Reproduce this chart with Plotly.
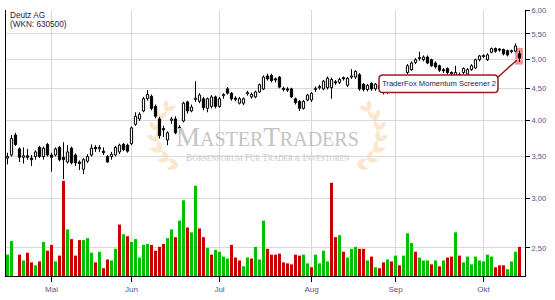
import math
import pandas as pd
import plotly.graph_objects as go

# ---------------- data ----------------
opens = [3.48,3.52,3.79,3.60,3.49,3.51,3.48,3.50,3.62,3.50,
         3.66,3.52,3.52,3.62,3.49,3.43,3.61,3.52,3.43,3.34,
         3.44,3.52,3.62,3.60,3.57,3.50,3.50,3.52,3.56,3.66,
         3.65,3.67,3.94,4.02,4.14,4.33,4.37,4.21,4.02,3.88,
         3.72,4.00,4.02,3.90,3.99,4.28,4.14,4.32,4.29,4.33,
         4.18,4.21,4.36,4.21,4.38,4.49,4.42,4.34,4.26,4.26,
         4.41,4.36,4.36,4.44,4.49,4.71,4.72,4.66,4.69,4.50,
         4.49,4.49,4.33,4.29,4.18,4.31,4.31,4.48,4.51,4.49,
         4.51,4.51,4.61,4.60,4.68,4.55,4.69,4.69,4.73,4.57,
         4.48,4.58,4.49,4.55,4.48,4.44,4.49,4.47,4.56,4.52,
         4.77,4.82,4.95,5.02,5.00,5.05,5.00,4.94,4.89,4.82,
         4.84,4.77,4.69,4.72,4.77,4.74,4.82,4.85,5.00,5.06,
         5.00,5.14,5.21,5.20,5.19,5.17,5.15,5.16,5.11]
highs = [3.55,3.79,3.82,3.62,3.62,3.60,3.52,3.58,3.64,3.63,
         3.68,3.55,3.62,3.64,3.69,3.65,3.63,3.54,3.45,3.48,
         3.53,3.66,3.65,3.65,3.62,3.52,3.56,3.64,3.67,3.68,
         3.67,3.91,4.12,4.12,4.36,4.47,4.40,4.24,4.05,3.92,
         3.84,4.05,4.06,3.93,4.28,4.30,4.24,4.62,4.42,4.36,
         4.35,4.39,4.38,4.36,4.42,4.52,4.44,4.37,4.36,4.35,
         4.46,4.43,4.46,4.58,4.72,4.75,4.75,4.68,4.71,4.53,
         4.52,4.51,4.35,4.31,4.31,4.41,4.44,4.53,4.56,4.64,
         4.70,4.68,4.64,4.68,4.70,4.69,4.83,4.81,4.76,4.59,
         4.57,4.60,4.59,4.58,4.50,4.52,4.52,4.58,4.60,4.72,
         4.92,4.97,5.03,5.15,5.08,5.08,5.02,4.97,4.91,4.85,
         4.86,4.79,4.89,4.77,4.86,4.85,4.92,5.02,5.09,5.10,
         5.12,5.23,5.23,5.22,5.21,5.19,5.19,5.31,5.17]
lows = [3.40,3.50,3.64,3.43,3.41,3.46,3.38,3.46,3.48,3.46,
        3.50,3.31,3.50,3.44,3.22,3.41,3.40,3.38,3.33,3.28,
        3.42,3.50,3.56,3.56,3.52,3.42,3.46,3.50,3.53,3.57,
        3.55,3.65,3.92,3.99,4.12,4.30,4.15,4.03,3.74,3.76,
        3.65,3.95,3.80,3.80,3.97,4.10,4.12,4.28,4.26,4.15,
        4.12,4.18,4.18,4.19,4.33,4.40,4.30,4.29,4.24,4.23,
        4.38,4.33,4.34,4.42,4.47,4.63,4.60,4.60,4.50,4.45,
        4.44,4.34,4.24,4.14,4.16,4.29,4.28,4.44,4.48,4.47,
        4.48,4.33,4.56,4.57,4.63,4.52,4.66,4.66,4.46,4.45,
        4.45,4.46,4.46,4.46,4.40,4.41,4.43,4.45,4.50,4.50,
        4.74,4.80,4.92,4.98,4.97,4.92,4.87,4.84,4.78,4.76,
        4.74,4.70,4.66,4.68,4.74,4.72,4.80,4.83,4.97,5.03,
        4.98,5.12,5.13,5.15,5.08,5.06,5.12,5.14,4.96]
closes = [3.50,3.74,3.66,3.49,3.51,3.49,3.46,3.56,3.50,3.61,
          3.52,3.49,3.60,3.46,3.46,3.56,3.42,3.42,3.41,3.46,
          3.50,3.61,3.60,3.62,3.55,3.43,3.53,3.62,3.65,3.59,
          3.57,3.89,4.06,4.09,4.33,4.40,4.18,4.06,3.78,3.86,
          3.82,4.02,3.82,3.88,4.26,4.14,4.20,4.34,4.39,4.19,
          4.33,4.36,4.21,4.33,4.40,4.42,4.33,4.32,4.33,4.33,
          4.43,4.40,4.44,4.56,4.69,4.66,4.63,4.64,4.52,4.48,
          4.47,4.36,4.27,4.18,4.29,4.39,4.42,4.50,4.53,4.62,
          4.67,4.65,4.59,4.65,4.66,4.67,4.71,4.79,4.49,4.48,
          4.55,4.49,4.57,4.50,4.44,4.49,4.47,4.55,4.52,4.70,
          4.89,4.94,5.00,5.04,5.05,4.94,4.89,4.87,4.81,4.80,
          4.77,4.75,4.77,4.74,4.84,4.82,4.89,5.00,5.07,5.08,
          5.09,5.21,5.16,5.18,5.11,5.09,5.17,5.26,5.03]
volume_k = [1100,1800,0,1100,800,1200,700,550,750,1750,
            1300,1600,750,1050,4900,2400,1900,1050,1850,1850,
            1950,1200,700,1250,400,850,800,1400,2650,2150,
            2050,1750,1900,950,1600,1650,1600,1300,1500,1650,
            1950,2400,2000,2850,3900,2500,2250,4650,2450,2000,
            1450,1100,1350,1250,1000,900,1600,950,800,500,
            950,900,1500,850,2850,1400,1100,1100,1150,700,
            650,600,1100,1050,1100,650,450,1100,650,1300,
            750,4800,2000,2100,1250,950,1400,1500,1400,1400,
            800,1000,450,400,700,850,750,1050,550,1050,
            2200,1700,1250,950,800,800,600,800,500,800,
            950,1000,2250,1050,700,1000,600,1000,800,750,
            1100,1000,450,550,550,350,750,1250,1500]
volume_dir = ("gg-rgrrgrg" "rrgrrgrrrg" "ggrgrrggrg" "rgggggrrrr"
              "ggrggrggrr" "grggggrrrg" "grgggrrrrr" "rrrrggrggg"
              "grrgrgggrr" "grgrrgrgrg" "ggrgggrgrg" "rrgrgggggg"
              "ggrrrgggr")
price_ticks = [2.5, 3.0, 3.5, 4.0, 4.5, 5.0, 5.5, 6.0]
price_tick_labels = ["2,50", "3,00", "3,50", "4,00", "4,50", "5,00", "5,50", "6,00"]
month_names = {5: "Mai", 6: "Jun", 7: "Jul", 8: "Aug", 9: "Sep", 10: "Okt"}
title_lines = ["Deutz AG", "(WKN: 630500)"]
signal_label = "TraderFox Momentum Screener 2"

# ---------------- trading calendar ----------------
n = len(closes)
dates = [d for d in pd.bdate_range("2020-04-16", "2020-10-20") if d != pd.Timestamp("2020-05-01")][:n]
idx = list(range(n))
tickvals, ticktext = [], []
for i, d in enumerate(dates):
    if i > 0 and d.month != dates[i - 1].month:
        tickvals.append(i)
        ticktext.append(month_names.get(d.month, ""))

# ---------------- layout geometry ----------------
W, H = 555, 300
ML, MR, MT, MB = 6, 30, 6, 20
PW, PH = W - ML - MR, H - MT - MB


def px2p(x, y):
    return (x - ML) / PW, (H - MB - y) / PH


def path_from_px(pts, close=True, cmds=None):
    s = ""
    for c, (x, y) in zip(cmds, pts):
        xp, yp = px2p(x, y)
        s += f"{c}{xp:.5f},{yp:.5f} "
    return s + ("Z" if close else "")


GREEN, RED = "#00c000", "#c80000"
vol_colors = [GREEN if c == "g" else RED for c in volume_dir[:n]]

fig = go.Figure()
# volume
fig.add_trace(go.Bar(x=idx, y=volume_k, marker=dict(color=vol_colors, line=dict(width=0)),
                     width=0.75, yaxis="y", showlegend=False, hoverinfo="skip"))

# candle wicks (above and below the body)
wx, wy = [], []
for i in idx:
    top, bot = max(opens[i], closes[i]), min(opens[i], closes[i])
    wx += [i, i, None, i, i, None]
    wy += [highs[i], top, None, bot, lows[i], None]
fig.add_trace(go.Scatter(x=wx, y=wy, mode="lines", yaxis="y2", line=dict(color="black", width=1),
                         showlegend=False, hoverinfo="skip"))
# candle bodies
body_base = [min(o, c) for o, c in zip(opens, closes)]
body_len = [max(abs(c - o), 0.004) for o, c in zip(opens, closes)]
body_fill = ["white" if c >= o else "black" for o, c in zip(opens, closes)]
fig.add_trace(go.Bar(x=idx, y=body_len, base=body_base, yaxis="y2", width=0.55,
                     marker=dict(color=body_fill, line=dict(color="black", width=1)),
                     showlegend=False, hoverinfo="skip"))

shapes = []
annotations = []

# laurel wreaths of the watermark
LEAF = "#f6cf9c"


def leaf(bx, by, dx, dy, length=12, width=5.0):
    nrm = math.hypot(dx, dy)
    dx, dy = dx / nrm, dy / nrm
    tx, ty = bx + dx * length, by + dy * length
    mx, my = bx + dx * length * 0.5, by + dy * length * 0.5
    px_, py_ = -dy * width, dx * width
    pts = [(bx, by), (mx + px_, my + py_), (tx, ty), (mx - px_, my - py_), (bx, by)]
    return path_from_px(pts, True, ["M", "Q", "", "Q", ""])


MIDX = 267.5
for side in (-1, 1):
    cx, cy, r = 190, 134, 34
    for deg in range(250, 118, -19):
        th = math.radians(deg)
        bx, by = cx + r * math.cos(th), cy - r * math.sin(th)
        gx, gy = math.sin(th), math.cos(th)
        ox, oy = math.cos(th), -math.sin(th)
        for s in (0.85, -0.3):
            dx, dy = gx + s * ox, gy + s * oy
            x0, ddx = bx, dx
            if side == 1:
                x0, ddx = 2 * MIDX - bx, -dx
            shapes.append(dict(type="path", xref="paper", yref="paper", layer="below",
                               path=leaf(x0, by, ddx, dy), fillcolor=LEAF, opacity=0.5,
                               line=dict(width=0, color="rgba(0,0,0,0)")))

# highlight of the last candle
last = n - 1
shapes.append(dict(type="rect", xref="x", yref="y2", layer="below",
                   x0=last - 1.1, x1=last + 0.85, y0=lows[last] * 0.99, y1=highs[last] * 1.01,
                   fillcolor="rgba(238,100,100,0.7)", line=dict(width=0)))

# connector from the label box to the highlight
lx0, ly0 = px2p(497, 76)
lx1, ly1 = px2p(517, 57.5)
shapes.append(dict(type="line", xref="paper", yref="paper", layer="above",
                   x0=lx0, y0=ly0, x1=lx1, y1=ly1, line=dict(color="#9b1b1b", width=1.5)))

# rounded label box
bx0, by0, bx1, by1, rr = 379, 73, 498, 91, 4
box_pts = [(bx0 + rr, by0), (bx1 - rr, by0), (bx1, by0), (bx1, by0 + rr), (bx1, by1 - rr),
           (bx1, by1), (bx1 - rr, by1), (bx0 + rr, by1), (bx0, by1), (bx0, by1 - rr),
           (bx0, by0 + rr), (bx0, by0), (bx0 + rr, by0)]
box_cmd = ["M", "L", "Q", "", "L", "Q", "", "L", "Q", "", "L", "Q", ""]
shapes.append(dict(type="path", xref="paper", yref="paper", layer="above",
                   path=path_from_px(box_pts, True, box_cmd), fillcolor="white",
                   line=dict(color="#9b1b1b", width=1.5)))

bxc, byc = px2p((bx0 + bx1) / 2, (by0 + by1) / 2)
annotations.append(dict(xref="paper", yref="paper", x=bxc, y=byc, text=signal_label,
                        showarrow=False, xanchor="center", yanchor="middle",
                        font=dict(family="Liberation Sans", size=7.6, color="#1a2550")))

# title
for k, t in enumerate(title_lines):
    tx, ty = px2p(7.5, 11.5 + 9.5 * k)
    annotations.append(dict(xref="paper", yref="paper", x=tx, y=ty, text=t, showarrow=False,
                            xanchor="left", yanchor="middle",
                            font=dict(family="Liberation Sans", size=8.2, color="#1c1c3c")))

# watermark text
mx_, my_ = px2p(MIDX, 137)
big = '<span style="font-size:27px">'
annotations.append(dict(xref="paper", yref="paper", x=mx_, y=my_,
                        text=f'{big}M</span>ASTER{big}T</span>RADERS',
                        showarrow=False, xanchor="center", yanchor="middle",
                        font=dict(family="Liberation Serif", size=20, color="#c4c4c4")))
sx, sy = px2p(MIDX, 158)
sm = '<span style="font-size:9.5px">'
annotations.append(dict(xref="paper", yref="paper", x=sx, y=sy,
                        text=f'{sm}B</span>ÖRSENFORUM {sm}F</span>ÜR {sm}T</span>RADER &amp; {sm}I</span>NVESTOREN',
                        showarrow=False, xanchor="center", yanchor="middle",
                        font=dict(family="Liberation Serif", size=7.4, color="#c8c8c8")))

vol_top = max(volume_k) * PH / 98.0

fig.update_layout(
    width=W, height=H, margin=dict(l=ML, r=MR, t=MT, b=MB, pad=0),
    paper_bgcolor="white", plot_bgcolor="white",
    barmode="overlay", showlegend=False,
    xaxis=dict(range=[-0.375, n + 0.375], tickvals=tickvals, ticktext=ticktext,
               showgrid=True, gridcolor="#d9d9d9", gridwidth=1, zeroline=False,
               showline=True, linecolor="black", linewidth=1,
               ticks="outside", ticklen=5, tickcolor="black", tickwidth=1,
               tickfont=dict(family="Liberation Sans", size=8, color="#4b5a85"),
               fixedrange=True),
    yaxis=dict(range=[0, vol_top], showgrid=False, showticklabels=False, zeroline=False,
               showline=True, linecolor="black", linewidth=1, side="left", ticks=""),
    yaxis2=dict(overlaying="y", side="right", type="log",
                range=[math.log10(2.254), math.log10(6.005)],
                tickvals=price_ticks, ticktext=price_tick_labels,
                showgrid=True, gridcolor="#d9d9d9", gridwidth=1, zeroline=False,
                showline=True, linecolor="black", linewidth=1,
                ticks="outside", ticklen=4, tickcolor="black", tickwidth=1,
                tickfont=dict(family="Liberation Sans", size=7.6, color="#4b5a85")),
    shapes=shapes, annotations=annotations,
)

fig.write_html("out.html")
